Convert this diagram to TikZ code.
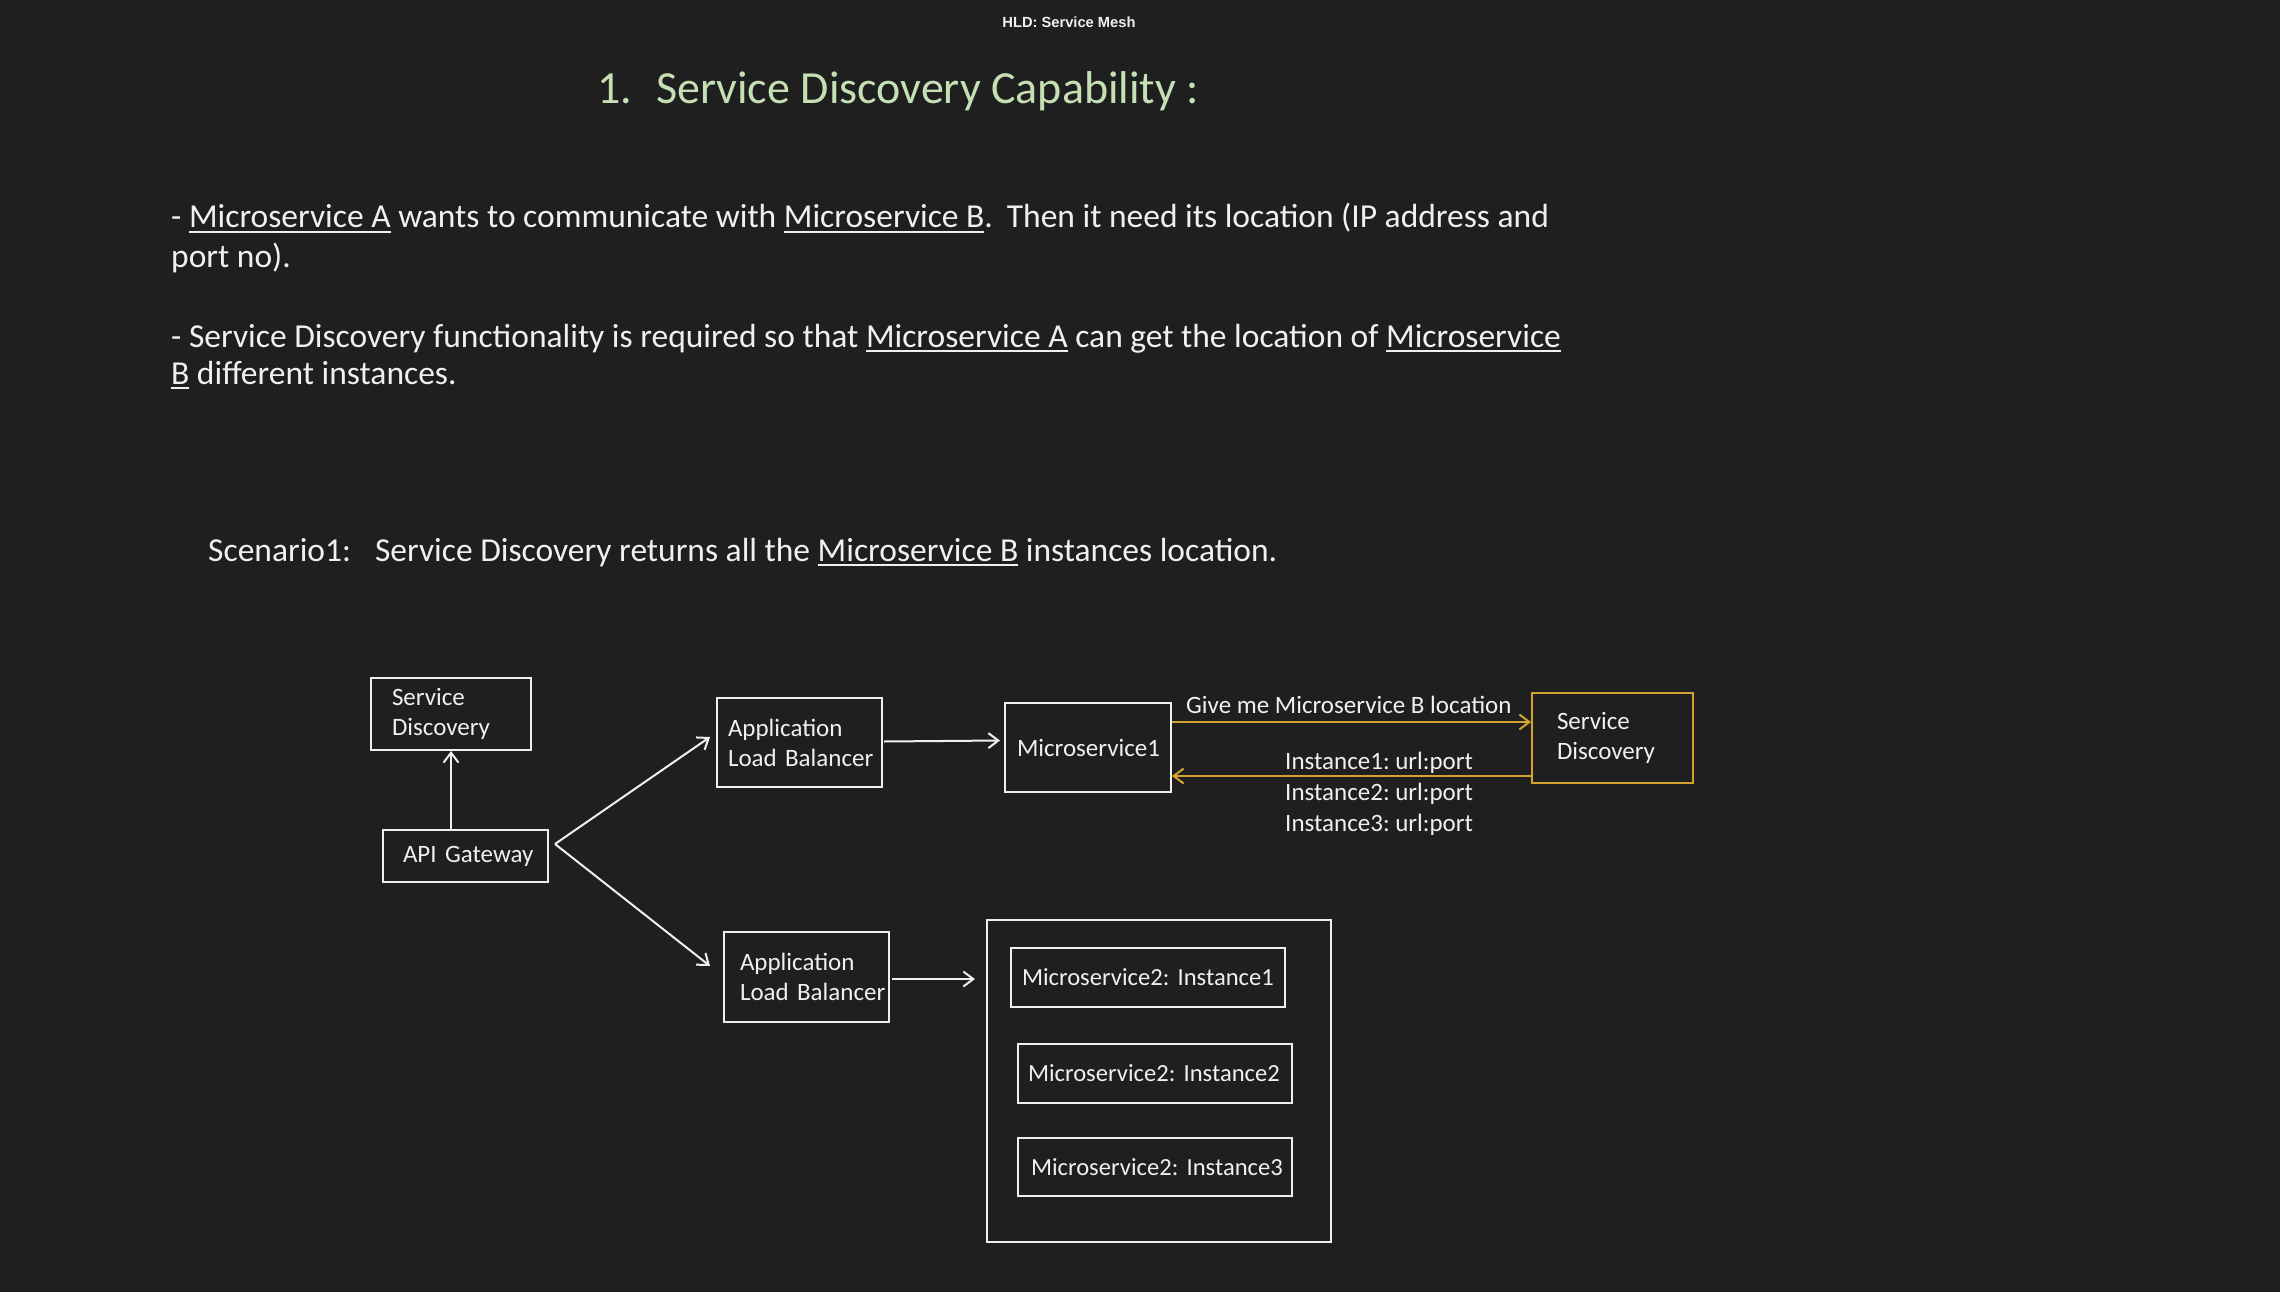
\documentclass[tikz,border=0pt]{standalone}
\usepackage{fontspec}
\setmainfont{Carlito}
\newfontfamily\hdrfont{Liberation Sans}
\usetikzlibrary{arrows.meta,calc}
\definecolor{bg}{HTML}{1F1F1F}
\definecolor{fg}{HTML}{F0F0F0}
\definecolor{titlegreen}{HTML}{C5E0B4}
\definecolor{gold}{HTML}{D4A32E}
\newcommand\ulx[1]{\setbox0\hbox{#1}\rlap{\rule[-5pt]{\wd0}{1.8pt}}\box0{}}
\newcommand\bodyf{\fontsize{33.5}{39}\selectfont}
\newcommand\boxf{\fontsize{25}{30}\selectfont}
\newcommand\instf{\fontsize{24.6}{30}\selectfont}
\begin{document}
\frenchspacing
\begin{tikzpicture}[x=1pt,y=-1pt,
  every node/.style={text=fg},
  box/.style={draw=fg,line width=2pt,align=left,inner ysep=0pt,font=\boxf},
  ibox/.style={box,font=\instf},
  arr/.style={draw=fg,line width=2pt,-{Straight Barb[length=10pt,width=15pt]}},
  garr/.style={arr,draw=gold},
  txt/.style={anchor=base west,inner sep=0pt,font=\bodyf},
  lbl/.style={anchor=base west,inner sep=0pt,font=\boxf}]
\fill[bg] (0,0) rectangle (2280,1292);
\useasboundingbox (0,0) rectangle (2280,1292);

% header and title
\node[anchor=base,inner sep=0pt,font=\hdrfont\bfseries\fontsize{14.7}{17}\selectfont] (hdr) at (1069,28) {HLD: Service Mesh};
\node[anchor=base west,inner sep=0pt,text=titlegreen,font=\fontsize{46}{55}\selectfont] (title) at (597,104) {1.\hspace{24pt}Service Discovery Capability :};

% body text
\node[txt] (l1) at (171,228) {- \ulx{Microservice A} wants to communicate with \ulx{Microservice B}.\hspace{14pt}Then it need its location (IP address and};
\node[txt] (l2) at (171,267) {port no).};
\node[txt] (l3) at (171,347) {- Service Discovery functionality is required so that \ulx{Microservice A} can get the location of \ulx{Microservice}};
\node[txt] (l4) at (171,384) {\ulx{B} different instances.};
\node[txt] (scn) at (208,561) {Scenario1:\hspace{24pt}Service Discovery returns all the \ulx{Microservice B} instances location.};

% boxes
\node[box,inner xsep=21pt,text width=118pt,minimum height=72pt] (sdl) at (451,714) {Service\\Discovery};
\node[box,inner xsep=20pt,text width=125pt,minimum height=52pt] (api) at (465.5,856) {\mbox{API Gateway}};
\node[box,inner xsep=11pt,text width=143pt,minimum height=89pt] (alb1) at (799.5,742.5) {Application\\\mbox{Load Balancer}};
\node[box,inner xsep=16pt,text width=133pt,minimum height=90pt] (alb2) at (806.5,977) {Application\\\mbox{Load Balancer}};
\node[box,inner xsep=12pt,text width=142pt,minimum height=89pt] (ms1) at (1088,747.5) {Microservice1};
\node[box,draw=gold,inner xsep=25pt,text width=111pt,minimum height=90pt] (sdr) at (1612.5,738) {Service\\Discovery};
\node[box,minimum width=344pt,minimum height=322pt] (outer) at (1159,1081) {};
\node[ibox,inner xsep=11pt,text width=252pt,minimum height=59pt] (i1) at (1148,977.5) {\mbox{Microservice2: Instance1}};
\node[ibox,inner xsep=10pt,text width=254pt,minimum height=59pt] (i2) at (1155,1073.5) {\mbox{Microservice2: Instance2}};
\node[ibox,inner xsep=13pt,text width=248pt,minimum height=58pt] (i3) at (1155,1167) {\mbox{Microservice2: Instance3}};

% labels
\node[lbl] (ask) at (1186,713) {Give me Microservice B location};
\node[lbl] (r1) at (1285,769) {Instance1: url:port};
\node[lbl] (r2) at (1285,800) {Instance2: url:port};
\node[lbl] (r3) at (1285,831) {Instance3: url:port};

% connectors
\coordinate (fork) at ($(api.east)+(6,-12)$);
\draw[arr] (api.north -| sdl.south) -- (sdl.south);
\draw[arr] (fork) -- ($(alb1.west)+(-6,-5.5)$);
\draw[arr] (fork) -- ($(alb2.west)+(-13,-11)$);
\draw[arr] ($(alb1.east)+(1,-1)$) -- ($(ms1.west)+(-4,-7)$);
\draw[arr] ($(alb2.east)+(2,2)$) -- ($(alb2.east -| outer.west)+(-11,2)$);
\draw[garr] ($(ms1.east)+(0,-25.5)$) -- ($(sdr.west |- ms1.east)+(0,-25.5)$);
\draw[garr] ($(sdr.west |- ms1.east)+(0,28.5)$) -- ($(ms1.east)+(0,28.5)$);
\end{tikzpicture}
\end{document}
